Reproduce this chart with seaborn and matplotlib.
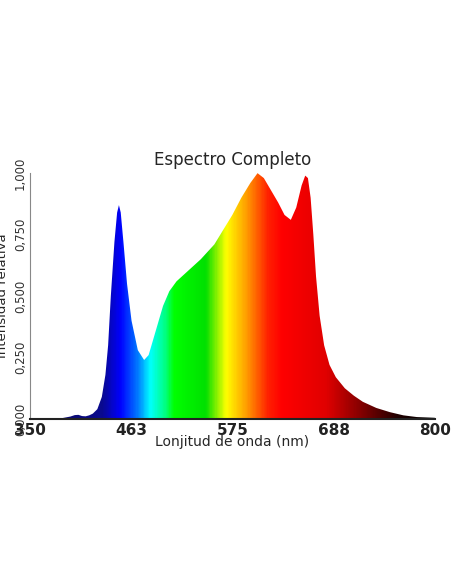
import numpy as np
import matplotlib
matplotlib.use("Agg")
import matplotlib.pyplot as plt
import seaborn as sns
from matplotlib.colors import LinearSegmentedColormap

wavelength = [350, 375, 385, 395, 400, 404, 408, 412, 416, 420, 425, 430, 434, 437, 440,
              444, 447, 449, 451, 454, 458, 463, 470, 477, 482, 490, 498, 505, 513, 525,
              540, 555, 565, 575, 585, 595, 603, 610, 618, 626, 633, 640, 646, 652, 656,
              659, 662, 665, 668, 672, 677, 683, 690, 700, 710, 720, 735, 750, 765, 780, 800]
intensity = [0.0, 0.001, 0.003, 0.01, 0.016, 0.017, 0.012, 0.011, 0.015, 0.022, 0.04, 0.09,
             0.18, 0.30, 0.50, 0.72, 0.84, 0.87, 0.84, 0.72, 0.55, 0.40, 0.28, 0.24, 0.26,
             0.36, 0.46, 0.52, 0.56, 0.60, 0.65, 0.71, 0.77, 0.83, 0.90, 0.96, 1.0, 0.98,
             0.93, 0.88, 0.83, 0.81, 0.86, 0.95, 0.99, 0.98, 0.90, 0.75, 0.58, 0.42, 0.30,
             0.22, 0.17, 0.125, 0.095, 0.07, 0.045, 0.028, 0.015, 0.008, 0.005]
x_ticks = [350, 463, 575, 688, 800]
y_ticks = [0.0, 0.25, 0.5, 0.75, 1.0]

sns.set_style("white")
fig = plt.figure(figsize=(4.52, 5.84), dpi=100)
ax = fig.add_axes([0.066, 0.2825, 0.896, 0.421])

# wavelength -> colour map for the fill
stops = [(350, "#0a0a50"), (430, "#0a0a90"), (450, "#0000ff"), (470, "#0080ff"),
         (483, "#00ffff"), (500, "#00ff80"), (510, "#00ff00"), (545, "#00e000"),
         (568, "#ffff00"), (590, "#ffa000"), (615, "#ff2000"), (630, "#ff0000"),
         (680, "#e00000"), (720, "#800000"), (760, "#200000"), (800, "#000000")]
cmap = LinearSegmentedColormap.from_list(
    "spec", [((w - 350) / 450, c) for w, c in stops])
grad = np.linspace(0, 1, 600).reshape(1, -1)
im = ax.imshow(grad, cmap=cmap, aspect="auto", extent=[350, 800, 0, 1.0], zorder=1)
poly = ax.fill_between(wavelength, intensity, 0, color="none")
im.set_clip_path(poly.get_paths()[0], transform=ax.transData)

ax.set_xlim(350, 800)
ax.set_ylim(0, 1.0)
ax.set_xticks(x_ticks)
ax.set_xticklabels([str(t) for t in x_ticks], fontsize=11, fontweight="bold", color="#222222")
ax.set_yticks(y_ticks)
ax.set_yticklabels([f"{t:.3f}".replace(".", ",") for t in y_ticks], rotation=90,
                   fontsize=8.5, color="#333333", va="center")
ax.tick_params(axis="both", length=0, pad=2)
ax.tick_params(axis="x", pad=3)
for s in ["top", "right"]:
    ax.spines[s].set_visible(False)
ax.spines["left"].set_color("#888888")
ax.spines["bottom"].set_color("#222222")
ax.spines["bottom"].set_linewidth(1.5)

ax.set_title("Espectro Completo", fontsize=12, pad=6)
ax.set_xlabel("Lonjitud de onda (nm)", fontsize=10, labelpad=-2)
ax.set_ylabel("Intensidad relativa", fontsize=9.5, labelpad=1)
ax.yaxis.set_label_coords(-0.052, 0.5)

fig.savefig("out.png", dpi=100)
